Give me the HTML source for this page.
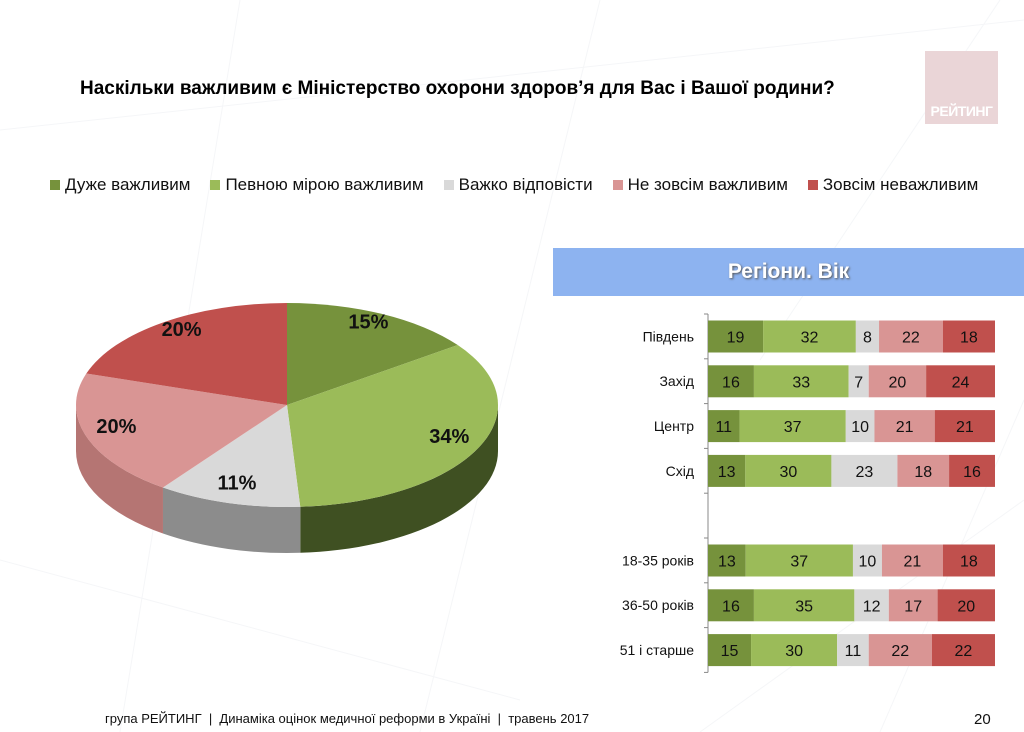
<!DOCTYPE html>
<html><head><meta charset="utf-8">
<style>
body{margin:0;width:1024px;height:732px;background:#fff;font-family:"Liberation Sans",sans-serif;position:relative;overflow:hidden}
.abs{position:absolute}
</style></head><body>
<svg class="abs" style="left:0;top:0" width="1024" height="732">
<g stroke="#f5f6f8" stroke-width="1" fill="none">
<line x1="0" y1="130" x2="1024" y2="20"/><line x1="0" y1="560" x2="520" y2="700"/>
<line x1="240" y1="0" x2="120" y2="732"/><line x1="600" y1="0" x2="420" y2="732"/>
<line x1="1024" y1="500" x2="700" y2="732"/><line x1="880" y1="732" x2="1024" y2="400"/>
<line x1="1000" y1="0" x2="760" y2="360"/>
</g></svg>
<div class="abs" style="left:925px;top:51px;width:73px;height:73px;background:#ead5d7"><div style="position:absolute;bottom:5px;width:100%;text-align:center;color:#fff;font-weight:bold;font-size:14px;letter-spacing:-0.5px">РЕЙТИНГ</div></div>
<div class="abs" style="left:80px;top:78px;font-size:19px;font-weight:bold;color:#000;white-space:nowrap">Наскільки важливим є Міністерство охорони здоров’я для Вас і Вашої родини?</div>
<div class="abs" style="left:50px;top:175px;font-size:17px;color:#111;white-space:nowrap;display:flex;gap:0">
<span style="margin-right:20px"><i style="display:inline-block;width:10px;height:10px;background:#76923c;margin-right:5px"></i>Дуже важливим</span>
<span style="margin-right:20px"><i style="display:inline-block;width:10px;height:10px;background:#9bbb59;margin-right:5px"></i>Певною мірою важливим</span>
<span style="margin-right:20px"><i style="display:inline-block;width:10px;height:10px;background:#d9d9d9;margin-right:5px"></i>Важко відповісти</span>
<span style="margin-right:20px"><i style="display:inline-block;width:10px;height:10px;background:#d99594;margin-right:5px"></i>Не зовсім важливим</span>
<span><i style="display:inline-block;width:10px;height:10px;background:#c0504d;margin-right:5px"></i>Зовсім неважливим</span>
</div>
<div class="abs" style="left:553px;top:248px;width:471px;height:48px;background:#8db3f0;color:#fff;font-weight:bold;font-size:21px;line-height:48px;text-align:center;text-shadow:1px 1px 2px #555">Регіони. Вік</div>
<svg id="pie" class="abs" style="left:0;top:0" width="540" height="600"></svg>
<svg id="bars" class="abs" style="left:0;top:0" width="1024" height="700"></svg>
<div class="abs" style="left:105px;top:711px;font-size:13px;color:#111">група РЕЙТИНГ &nbsp;|&nbsp; Динаміка оцінок медичної реформи в Україні &nbsp;|&nbsp; травень 2017</div>
<div class="abs" style="left:974px;top:711px;font-size:15px;color:#111">20</div>
<script>
const pieLabels=["15%","34%","11%","20%","20%"];
const pieValues=[15,34,11,20,20];
const colors=["#76923c","#9bbb59","#d9d9d9","#d99594","#c0504d"];
const sideColors=["#4f6228","#3f5022","#8c8c8c","#b57573","#8e3533"];
const categories=["Південь","Захід","Центр","Схід","","18-35 років","36-50 років","51 і старше"];
const s1=[19,16,11,13,null,13,16,15];
const s2=[32,33,37,30,null,37,35,30];
const s3=[8,7,10,23,null,10,12,11];
const s4=[22,20,21,18,null,21,17,22];
const s5=[18,24,21,16,null,18,20,22];
const NS="http://www.w3.org/2000/svg";
function mk(p,t,a){const e=document.createElementNS(NS,t);for(const k in a)e.setAttribute(k,a[k]);p.appendChild(e);return e;}
const pie=document.getElementById('pie');
const cx=287,cy=405,rx=211,ry=102,depth=46;
const tot=pieValues.reduce((a,b)=>a+b,0);
const pt=(a,dy)=>[cx+rx*Math.sin(a),cy-ry*Math.cos(a)+(dy||0)];
let acc=0;const angs=pieValues.map(v=>{const a0=acc/tot*2*Math.PI;acc+=v;return [a0,acc/tot*2*Math.PI];});
angs.forEach(([a0,a1],i)=>{
 const s=Math.max(a0,Math.PI/2),e=Math.min(a1,1.5*Math.PI);
 if(e<=s)return;
 const p0=pt(s),p1=pt(e);
 const d=`M${p0} A${rx},${ry} 0 0 1 ${p1} L${p1[0]},${p1[1]+depth} A${rx},${ry} 0 0 0 ${p0[0]},${p0[1]+depth} Z`;
 const el=mk(pie,'path',{d,fill:sideColors[i]});
 
 
});
angs.forEach(([a0,a1],i)=>{
 const p0=pt(a0),p1=pt(a1);const large=(a1-a0)>Math.PI?1:0;
 const el=mk(pie,'path',{d:`M${cx},${cy} L${p0} A${rx},${ry} 0 ${large} 1 ${p1} Z`,fill:colors[i]});
 
 
 const m=(a0+a1)/2;const lp=[cx+rx*0.85*Math.sin(m),cy-ry*0.85*Math.cos(m)-6];
 const t=mk(pie,'text',{x:lp[0],y:lp[1]+7,'text-anchor':'middle','font-size':20,'font-weight':'bold',fill:'#111','font-family':'Liberation Sans'});
 t.textContent=pieLabels[i];
 
 
});
const bars=document.getElementById('bars');
const x0=708,W=287,top0=314,step=44.8,bh=32;
const y=i=>top0+i*step;
mk(bars,'line',{x1:x0,y1:top0,x2:x0,y2:top0+8*step,stroke:'#888'});
for(let i=0;i<=8;i++)mk(bars,'line',{x1:x0-4,y1:y(i),x2:x0,y2:y(i),stroke:'#888'});
const series=[s1,s2,s3,s4,s5];
categories.forEach((c,i)=>{
 const lt=mk(bars,'text',{x:694,y:y(i)+step/2+5,'text-anchor':'end','font-size':14,fill:'#111','font-family':'Liberation Sans'});
 lt.textContent=c;
 
 
 if(s1[i]==null)return;
 const sum=series.reduce((a,s)=>a+s[i],0);let cum=0;
 series.forEach((s,k)=>{
  const v=s[i];const bx=x0+cum/sum*W,bw=v/sum*W;cum+=v;
  const r=mk(bars,'rect',{x:bx,y:y(i)+6.5,width:bw,height:bh,fill:colors[k]});
  
  
  const t=mk(bars,'text',{x:bx+bw/2,y:y(i)+6.5+bh/2+6,'text-anchor':'middle','font-size':16,fill:'#111','font-family':'Liberation Sans'});
  t.textContent=v;
  
  
 });
});
</script>
</body></html>
